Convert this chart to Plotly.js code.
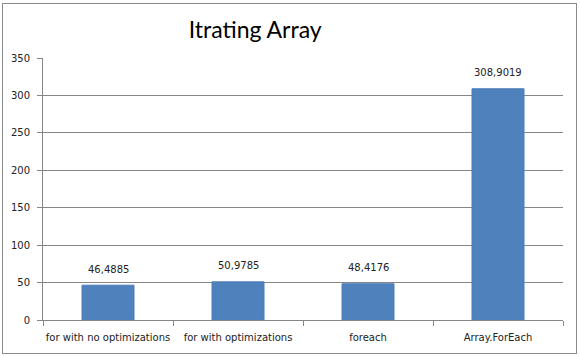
<!DOCTYPE html>
<html><head><meta charset="utf-8">
<script src="https://cdn.plot.ly/plotly-3.0.1.min.js"></script>
<style>body{margin:0;background:#fff}#wrap{position:relative;width:580px;height:357px}#c{width:580px;height:357px}#frame{position:absolute;left:2px;top:3px;width:573px;height:349px;border:1px solid #8a8a8a;pointer-events:none}</style>
</head><body><div id="wrap"><div id="c"></div><div id="frame"></div></div>
<script>
const categories = ["for with no optimizations", "for with optimizations", "foreach", "Array.ForEach"];
const values = [46.4885, 50.9785, 48.4176, 308.9019];
const yTicks = [0, 50, 100, 150, 200, 250, 300, 350];
const labels = values.map(v => String(v).replace('.', ','));
const tickFont = {family: "DejaVu Sans", size: 10, color: "#222"};
Plotly.newPlot('c', [{
  type: 'bar', x: categories, y: values,
  marker: {color: '#4f81bd', line: {color: '#4a7ebb', width: 1}},
  hoverinfo: 'none'
}], {
  width: 580, height: 357,
  margin: {l: 43, r: 17, t: 58, b: 37},
  paper_bgcolor: '#fff', plot_bgcolor: '#fff',
  bargap: 0.6,
  showlegend: false,
  title: {text: 'Itrating Array', font: {family: 'Lato', size: 23, color: '#000'}, x: 0.44, xanchor: 'center', y: 0.915, yanchor: 'middle'},
  xaxis: {type: 'category', tickson: 'boundaries', ticks: 'outside', ticklen: 5, tickcolor: '#868686', tickangle: 0,
    ticklabelstandoff: 8,
    showline: true, linecolor: '#868686', linewidth: 1, showgrid: false, tickfont: tickFont, fixedrange: true},
  yaxis: {range: [0, 350], tickvals: yTicks, ticks: 'outside', ticklen: 5, tickcolor: '#868686',
    ticklabelstandoff: 5,
    showline: true, linecolor: '#868686', showgrid: true, gridcolor: '#868686', zeroline: false,
    tickfont: tickFont, fixedrange: true},
  annotations: categories.map((c, i) => ({x: c, y: values[i], text: labels[i], showarrow: false,
    yshift: 16, font: tickFont}))
}, {staticPlot: true});
</script></body></html>
